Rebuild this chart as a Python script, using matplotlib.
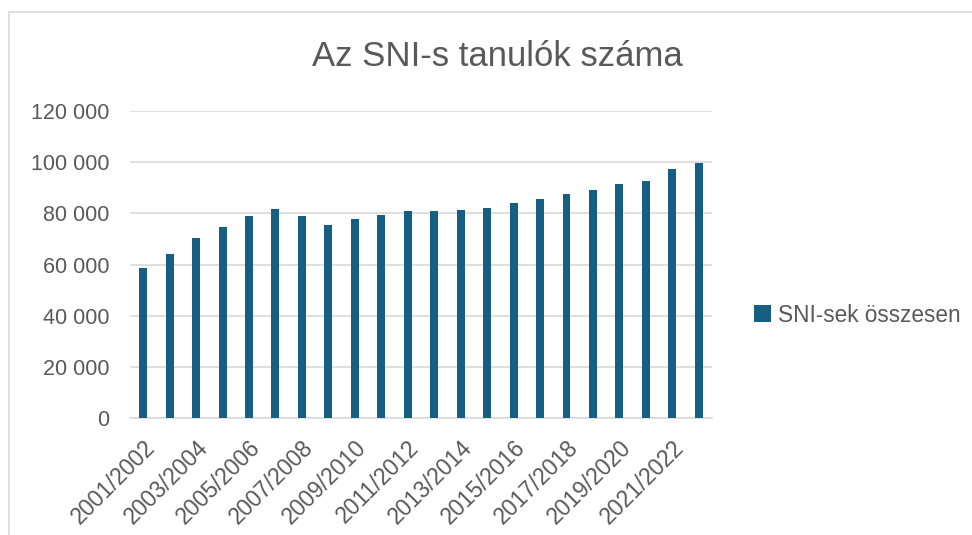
import matplotlib.pyplot as plt
from matplotlib.patches import Rectangle
from matplotlib.ticker import FuncFormatter

plt.rcParams['font.family'] = ['Liberation Sans', 'DejaVu Sans']

years = [f"{y}/{y + 1}" for y in range(2001, 2023)]
students = [58600, 64200, 70500, 74600, 78800, 81600, 78800, 75600, 77700, 79500,
            81000, 81000, 81300, 82000, 84000, 85700, 87500, 89100, 91400, 92800,
            97300, 99600]

BAR_COLOR = "#156082"
TEXT_COLOR = "#595959"
GRID_COLOR = "#d9d9d9"

fig = plt.figure(figsize=(9.72, 5.35), dpi=100)
ax = fig.add_axes([0.1337, 0.2187, 0.5988, 0.5738])

# chart area border (only top/left visible in the screenshot)
fig.patches.append(Rectangle((9 / 972, -0.1), 1.1, 1 - 12 / 535 + 0.1,
                             transform=fig.transFigure, fill=False,
                             edgecolor=GRID_COLOR, linewidth=1.2))

x = range(len(years))
ax.bar(x, students, width=0.3, color=BAR_COLOR, label="SNI-sek összesen", zorder=3)

ax.set_xlim(-0.5, len(years) - 0.5)
ax.set_ylim(0, 120000)
ax.set_yticks(range(0, 120001, 20000))
ax.yaxis.set_major_formatter(FuncFormatter(lambda v, p: f"{int(v):,}".replace(",", " ")))
ax.grid(axis="y", color=GRID_COLOR, linewidth=1.2, zorder=0)
for s in ["top", "right", "left"]:
    ax.spines[s].set_visible(False)
ax.spines["bottom"].set_color(GRID_COLOR)
ax.spines["bottom"].set_linewidth(1.2)

ax.set_xticks(list(x)[::2])
ax.set_xticklabels(years[::2], rotation=45, ha="right", rotation_mode="anchor")
ax.tick_params(axis="x", length=0, pad=13, labelsize=16.5, labelcolor=TEXT_COLOR)
ax.tick_params(axis="y", length=0, pad=15, labelsize=15.5, labelcolor=TEXT_COLOR)

fig.text(0.512, 0.895, "Az SNI-s tanulók száma", ha="center", va="center",
         fontsize=25, color=TEXT_COLOR)

fig.legend(loc="center left", bbox_to_anchor=(0.776, 0.411), frameon=False,
           fontsize=16.3, labelcolor=TEXT_COLOR, handlelength=0.75, handleheight=0.75,
           handletextpad=0.3, borderaxespad=0, borderpad=0)

fig.savefig("out.png", dpi=100)
